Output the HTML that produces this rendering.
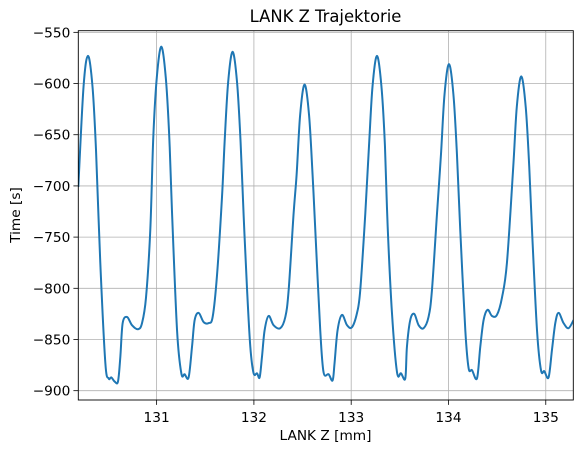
<!DOCTYPE html>
<html><head><meta charset="utf-8"><style>
body{margin:0;background:#fff;}
svg{display:block;font-family:"DejaVu Sans","Liberation Sans",sans-serif;}
</style></head><body>
<svg id="chart" width="583" height="453" viewBox="0 0 583 453">
<defs><clipPath id="clip"><rect x="78.3" y="30.7" width="495" height="369.3"/></clipPath></defs>
<rect width="583" height="453" fill="#fff"/>
<g id="grid"></g>
<g id="series" clip-path="url(#clip)"></g>
<rect x="78.3" y="30.7" width="495" height="369.3" fill="none" stroke="#000" stroke-width="0.9"/>
<g id="ticks"></g>
<text x="325.5" y="22" text-anchor="middle" font-size="16.4">LANK Z Trajektorie</text>
<text x="325.5" y="440" text-anchor="middle" font-size="13.7">LANK Z [mm]</text>
<text transform="translate(20,215) rotate(-90)" text-anchor="middle" font-size="13.7">Time [s]</text>
</svg>
<script>
const xTicks=[131,132,133,134,135];
const yTicks=[-550,-600,-650,-700,-750,-800,-850,-900];
const times=[130.195,130.249,130.295,130.341,130.377,130.421,130.473,130.507,130.534,130.568,130.603,130.627,130.651,130.696,130.747,130.809,130.850,130.891,130.935,130.966,131.002,131.048,131.094,131.130,
131.158,131.210,131.254,131.288,131.329,131.364,131.391,131.432,131.483,131.534,131.576,131.621,131.672,131.699,131.735,131.781,131.827,131.863,
131.895,131.929,131.963,131.997,132.032,132.059,132.083,132.110,132.151,132.202,132.271,132.323,132.357,132.408,132.439,132.475,132.521,132.567,132.603,
132.631,132.682,132.716,132.768,132.809,132.829,132.860,132.905,132.957,133.008,133.060,133.093,133.145,133.183,133.219,133.265,133.311,133.347,
133.375,133.419,133.471,133.512,133.556,133.573,133.607,133.648,133.693,133.744,133.795,133.830,133.882,133.923,133.959,134.005,134.051,134.087,
134.121,134.173,134.207,134.242,134.293,134.327,134.361,134.402,134.447,134.498,134.550,134.601,134.666,134.702,134.748,134.794,134.830,
134.862,134.910,134.951,134.985,135.029,135.064,135.098,135.132,135.183,135.234,135.286];
const values=[-701,-603,-573,-603,-665,-775,-873,-888,-887,-891,-891,-867,-834,-828,-836,-840,-834,-809,-743,-652,-594,-564,-594,-652,
-725,-841,-883,-884,-887,-857,-831,-824,-833,-834,-828,-787,-711,-657,-599,-569,-599,-657,
-730,-800,-857,-883,-883,-887,-867,-841,-827,-836,-839,-828,-802,-727,-689,-631,-601,-631,-689,
-743,-841,-882,-884,-890,-873,-841,-826,-836,-838,-824,-802,-727,-661,-603,-573,-603,-661,
-740,-824,-882,-883,-888,-857,-831,-825,-836,-839,-828,-802,-727,-669,-611,-581,-611,-669,
-743,-841,-878,-880,-888,-857,-831,-821,-827,-826,-809,-775,-681,-623,-593,-623,-681,
-750,-841,-880,-881,-887,-860,-834,-824,-834,-839,-831];
const NS='http://www.w3.org/2000/svg';
const L=78.3,R=573.3,T=30.7,B=400;
const xMin=130.195,xMax=135.283,yMin=-909.1,yMax=-548.4;
function sx(t){return L+(t-xMin)/(xMax-xMin)*(R-L);}
function sy(v){return T+(yMax-v)/(yMax-yMin)*(B-T);}
const grid=document.getElementById('grid'),ticks=document.getElementById('ticks'),series=document.getElementById('series');
xTicks.forEach(t=>{
 const x=sx(t);
 const g=document.createElementNS(NS,'line');
 g.setAttribute('x1',x);g.setAttribute('x2',x);g.setAttribute('y1',T);g.setAttribute('y2',B);
 g.setAttribute('stroke','#b0b0b0');g.setAttribute('stroke-width','0.8');
 
 
 grid.appendChild(g);
 const k=document.createElementNS(NS,'line');
 k.setAttribute('x1',x);k.setAttribute('x2',x);k.setAttribute('y1',B);k.setAttribute('y2',B+4.9);
 k.setAttribute('stroke','#000');k.setAttribute('stroke-width','0.8');
 
 
 ticks.appendChild(k);
 const tx=document.createElementNS(NS,'text');
 tx.setAttribute('x',x);tx.setAttribute('y',B+22);tx.setAttribute('text-anchor','middle');tx.setAttribute('font-size','13.7');
 tx.textContent=t;
 
 
 ticks.appendChild(tx);
});
yTicks.forEach(v=>{
 const y=sy(v);
 const g=document.createElementNS(NS,'line');
 g.setAttribute('x1',L);g.setAttribute('x2',R);g.setAttribute('y1',y);g.setAttribute('y2',y);
 g.setAttribute('stroke','#b0b0b0');g.setAttribute('stroke-width','0.8');
 
 
 grid.appendChild(g);
 const k=document.createElementNS(NS,'line');
 k.setAttribute('x1',L-4.9);k.setAttribute('x2',L);k.setAttribute('y1',y);k.setAttribute('y2',y);
 k.setAttribute('stroke','#000');k.setAttribute('stroke-width','0.8');
 
 
 ticks.appendChild(k);
 const tx=document.createElementNS(NS,'text');
 tx.setAttribute('x',L-8);tx.setAttribute('y',y+5);tx.setAttribute('text-anchor','end');tx.setAttribute('font-size','13.7');
 tx.textContent='\u2212'+Math.abs(v);
 
 
 ticks.appendChild(tx);
});
const pts=times.map((t,i)=>[sx(t),sy(values[i])]);
let d='M'+pts[0][0].toFixed(2)+','+pts[0][1].toFixed(2);
for(let i=0;i<pts.length-1;i++){
 const p0=pts[Math.max(0,i-1)],p1=pts[i],p2=pts[i+1],p3=pts[Math.min(pts.length-1,i+2)];
 const c1=[p1[0]+(p2[0]-p0[0])/6,p1[1]+(p2[1]-p0[1])/6];
 const c2=[p2[0]-(p3[0]-p1[0])/6,p2[1]-(p3[1]-p1[1])/6];
 d+='C'+c1[0].toFixed(2)+','+c1[1].toFixed(2)+' '+c2[0].toFixed(2)+','+c2[1].toFixed(2)+' '+p2[0].toFixed(2)+','+p2[1].toFixed(2);
}
const path=document.createElementNS(NS,'path');
path.setAttribute('d',d);path.setAttribute('fill','none');path.setAttribute('stroke','#1f77b4');path.setAttribute('stroke-width','2');path.setAttribute('stroke-linejoin','round');


series.appendChild(path);
</script>
</body></html>
